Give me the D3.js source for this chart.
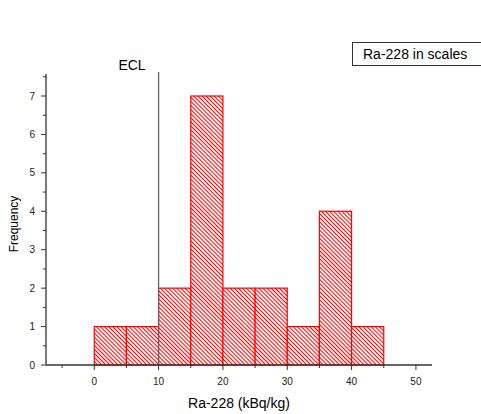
<!DOCTYPE html>
<html><head><meta charset="utf-8">
<script src="https://cdn.jsdelivr.net/npm/d3@7"></script>
<style>body{margin:0;background:#fff}svg{display:block;font-family:Arial,"Liberation Sans",sans-serif}</style>
</head><body><svg id="c" width="481" height="414"></svg>
<script>
const binStarts = [0,5,10,15,20,25,30,35,40];
const binWidth = 5;
const counts = [1,1,2,7,2,2,1,4,1];
const xTicks = [0,10,20,30,40,50];
const yTicks = [0,1,2,3,4,5,6,7];
const eclValue = 10;

const svg = d3.select("#c");
const x = d3.scaleLinear().domain([-7.5,52.5]).range([46,432]);
const y = d3.scaleLinear().domain([0,7]).range([365,96]);

const defs = svg.append("defs");
const s = 2.9;
const pat = defs.append("pattern").attr("id","hatch").attr("patternUnits","userSpaceOnUse")
  .attr("width",s).attr("height",s).attr("patternTransform","rotate(45)");
pat.append("rect").attr("width",s).attr("height",s).attr("fill","#fff");
pat.append("line").attr("x1",0).attr("y1",0.5).attr("x2",s).attr("y2",0.5).attr("stroke","#f00").attr("stroke-width",1.1);

// bars
svg.append("g").selectAll("rect").data(binStarts).join("rect")
  .attr("x",(d)=>x(d)).attr("width",(d)=>x(d+binWidth)-x(d))
  .attr("y",(d,i)=>y(counts[i])).attr("height",(d,i)=>y(0)-y(counts[i]))
  .attr("fill","url(#hatch)").attr("stroke","#f00").attr("stroke-width",1.2);

// ECL line
svg.append("line").attr("x1",x(eclValue)).attr("x2",x(eclValue)).attr("y1",72).attr("y2",y(0))
  .attr("stroke","#666").attr("stroke-width",1.3);
svg.append("text").attr("x",132).attr("y",70).attr("text-anchor","middle")
  .attr("font-size",14).text("ECL");

// x axis
const xg = svg.append("g").attr("transform",`translate(0,${y(0)})`);
xg.append("line").attr("x1",46).attr("x2",432).attr("stroke","#333").attr("stroke-width",1.3);
const xMinor = d3.range(-5,52,5).filter(v=>v%10!==0);
xg.selectAll(".mj").data(xTicks).join("line").attr("x1",d=>x(d)).attr("x2",d=>x(d)).attr("y1",0).attr("y2",5).attr("stroke","#333");
xg.selectAll(".mn").data(xMinor).join("line").attr("x1",d=>x(d)).attr("x2",d=>x(d)).attr("y1",0).attr("y2",3).attr("stroke","#333");
xg.selectAll("text").data(xTicks).join("text").attr("x",d=>x(d)).attr("y",20).attr("text-anchor","middle")
  .attr("font-size",10).attr("fill","#222").text(d=>d);

// y axis
const yg = svg.append("g");
yg.append("line").attr("x1",46).attr("x2",46).attr("y1",74).attr("y2",y(0)).attr("stroke","#333").attr("stroke-width",1.3);
const yMinor = d3.range(0.5,7.6,1);
yg.selectAll(".mj").data(yTicks).join("line").attr("x1",41).attr("x2",46).attr("y1",d=>y(d)).attr("y2",d=>y(d)).attr("stroke","#333");
yg.selectAll(".mn").data(yMinor).join("line").attr("x1",43).attr("x2",46).attr("y1",d=>y(d)).attr("y2",d=>y(d)).attr("stroke","#333");
yg.selectAll("text").data(yTicks).join("text").attr("x",35).attr("y",d=>y(d)+3.5).attr("text-anchor","end")
  .attr("font-size",10).attr("fill","#222").text(d=>d);

// titles
svg.append("text").attr("transform","translate(18,224) rotate(-90)").attr("text-anchor","middle").attr("font-size",12).text("Frequency");
svg.append("text").attr("x",239).attr("y",408).attr("text-anchor","middle").attr("font-size",14).text("Ra-228 (kBq/kg)");

// legend
svg.append("rect").attr("x",352.5).attr("y",42.5).attr("width",130).attr("height",23).attr("fill","#fff").attr("stroke","#333");
svg.append("text").attr("x",363).attr("y",59).attr("font-size",14).text("Ra-228 in scales");
</script></body></html>
